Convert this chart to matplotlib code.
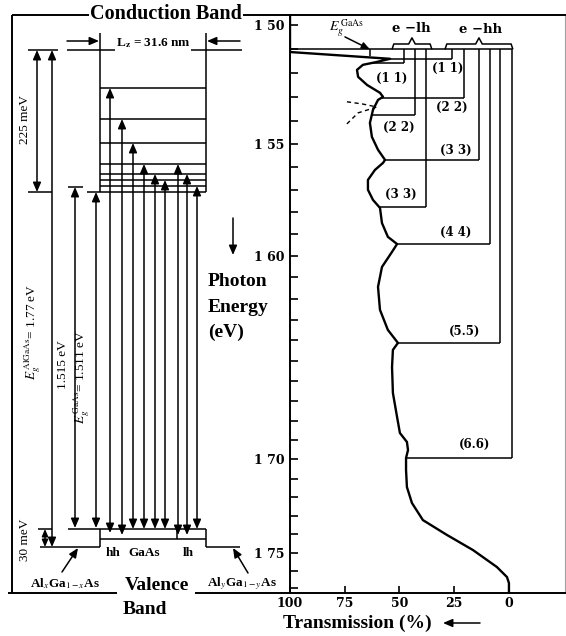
import numpy as np
import matplotlib.pyplot as plt
from matplotlib.ticker import FixedLocator, FixedFormatter

plt.rcParams['font.family'] = ['Liberation Serif', 'DejaVu Serif']
plt.rcParams['mathtext.fontset'] = 'stix'

# transmission spectrum: photon energy (eV) and transmission (%)
energy = [1.4960, 1.5105, 1.5111, 1.5139, 1.5152, 1.5164, 1.5185, 1.5214, 1.5248, 1.5281,
          1.5298, 1.5311, 1.5353, 1.5409, 1.5469, 1.5525, 1.5569, 1.5582, 1.5613, 1.5657,
          1.5701, 1.5746, 1.5782, 1.5850, 1.5913, 1.5946, 1.5982, 1.6052, 1.6145, 1.6254,
          1.6350, 1.6413, 1.6447, 1.6531, 1.6660, 1.6781, 1.6863, 1.6909, 1.6951, 1.6992,
          1.7055, 1.7145, 1.7230, 1.7322, 1.7403, 1.7486, 1.7580, 1.7636, 1.7670, 1.7726]
transmission = [100, 100, 100, 54.3, 60.3, 66.7, 69.4, 68.9, 64.8, 58.9,
                57.5, 59.8, 62.1, 63.5, 62.6, 59.8, 56.6, 57.5, 61.2, 64.4,
                64.4, 62.1, 58.9, 58.0, 55.3, 51.1, 53.4, 58.0, 59.8, 58.9,
                55.3, 50.7, 53.0, 53.4, 53.0, 51.1, 49.8, 46.6, 46.1, 47.0,
                47.0, 46.6, 44.3, 39.3, 28.3, 16.4, 5.5, 0.9, 0.0, 0.0]

eg_gaas = 1.5100
elh_names = ['(1 1)', '(2 2)', '(3 3)']
elh_energy = [1.5156, 1.5375, 1.5777]
ehh_names = ['(1 1)', '(2 2)', '(3 3)', '(4 4)', '(5.5)', '(6.6)']
ehh_energy = [1.5139, 1.5302, 1.5569, 1.5946, 1.6413, 1.6992]

energy_ticks = [1.50, 1.55, 1.60, 1.65, 1.70, 1.75]
energy_ticklabels = ['1 50', '1 55', '1 60', '', '1 70', '1 75']
trans_ticks = [100, 75, 50, 25, 0]
trans_ticklabels = ['100', '75', '50', '25', '0']

# band-edge sketch of the well (pixel units, y down)
cb_barrier = 50
cb_floor = 192
cb_levels = [88, 119, 143, 164, 174, 180, 186]
vb_top = 529
vb_split = 539
vb_barrier = 547
well_left, well_right = 100, 206
trans_x = [110, 122, 133, 144, 155, 165, 178, 187, 197]
trans_level = [0, 1, 2, 3, 4, 5, 3, 4, 6]
trans_bottom = [533, 535, 529, 529, 529, 529, 535, 535, 529]

fig = plt.figure(figsize=(5.66, 6.36), dpi=100)

# ---------------- left: schematic ----------------
ax0 = fig.add_axes([0, 0, 1, 1])
ax0.set_xlim(0, 566)
ax0.set_ylim(636, 0)
ax0.axis('off')

LW = 1.1


def seg(x, y, lw=LW, ax=ax0):
    ax.plot(x, y, color='black', lw=lw, solid_capstyle='butt')


def arrow(x0, y0, x1, y1, style='<|-|>', ax=ax0, ms=8):
    ax.annotate('', xy=(x1, y1), xytext=(x0, y0),
                arrowprops=dict(arrowstyle=style + ',head_length=0.7,head_width=0.3',
                                color='black', lw=LW, shrinkA=0, shrinkB=0,
                                mutation_scale=ms))


# frame
seg([12, 12], [15, 593], lw=1.4)
seg([12, 290], [15, 15], lw=1.4)
seg([8, 117], [593, 593], lw=1.4)
seg([195, 290], [593, 593], lw=1.4)

# conduction band well
seg([67, 242], [cb_barrier, cb_barrier])
seg([well_left, well_left], [33, cb_floor])
seg([well_right, well_right], [33, cb_floor])
seg([87, well_right], [cb_floor, cb_floor])
for y in cb_levels:
    seg([well_left, well_right], [y, y])
arrow(67, 41, well_left - 1, 41, '-|>')
arrow(240, 41, well_right + 1, 41, '-|>')
ax0.text(153, 43, r'L$_{\mathbf{z}}$ = 31.6 nm', ha='center', va='center',
         fontsize=9.5, weight='bold', bbox=dict(fc='white', ec='none', pad=0.5))

# valence band well
seg([40, well_left], [vb_barrier, vb_barrier])
seg([well_right, 240], [vb_barrier, vb_barrier])
seg([well_left, well_left], [vb_barrier, vb_top])
seg([well_right, well_right], [vb_barrier, vb_top])
seg([68, well_right], [vb_top, vb_top])
seg([well_left, well_right], [vb_split, vb_split])
seg([177, 177], [vb_top, vb_split])

# offsets and gaps
seg([28, 58], [cb_barrier, cb_barrier])
seg([28, 52], [cb_floor, cb_floor])
seg([68, 83], [187, 187])
seg([38, 52], [vb_top, vb_top])
arrow(37, cb_barrier, 37, cb_floor)
arrow(52, cb_barrier, 52, vb_barrier)
arrow(45, vb_top, 45, vb_barrier, ms=6)
arrow(75, 187, 75, vb_top - 1)
arrow(96, cb_floor, 96, vb_top - 1)

# interband transitions
for x, lev, yb in zip(trans_x, trans_level, trans_bottom):
    arrow(x, cb_levels[lev], x, yb)

ax0.text(25, 120, '225 meV', rotation=90, ha='center', va='center', fontsize=9.5)
ax0.text(33, 332, r'$E_g^{\,\mathrm{AlGaAs}}$= 1.77 eV', rotation=90,
         ha='center', va='center', fontsize=9.5)
ax0.text(63, 365, '1.515 eV', rotation=90, ha='center', va='center', fontsize=9.5)
ax0.text(82, 377, r'$E_g^{\,\mathrm{GaAs}}$= 1.511 eV', rotation=90,
         ha='center', va='center', fontsize=9.5)
ax0.text(25, 540, '30 meV', rotation=90, ha='center', va='center', fontsize=9.5)
ax0.text(113, 553, 'hh', ha='center', va='center', fontsize=9.5, weight='bold')
ax0.text(144, 553, 'GaAs', ha='center', va='center', fontsize=9.5, weight='bold')
ax0.text(188, 553, 'lh', ha='center', va='center', fontsize=9.5, weight='bold')
arrow(62, 572, 78, 548, '-|>')
arrow(248, 573, 233, 548, '-|>')
ax0.text(65, 584, r'Al$_x$Ga$_{1-x}$As', ha='center', va='center', fontsize=9.5, weight='bold')
ax0.text(242, 584, r'Al$_y$Ga$_{1-y}$As', ha='center', va='center', fontsize=9.5, weight='bold')

ax0.text(166, 14, 'Conduction Band', ha='center', va='center', fontsize=14.5,
         weight='bold', bbox=dict(fc='white', ec='none', pad=1))
ax0.text(157, 586, 'Valence', ha='center', va='center', fontsize=14, weight='bold')
ax0.text(145, 609, 'Band', ha='center', va='center', fontsize=14, weight='bold')
for i, word in enumerate(['Photon', 'Energy', '(eV)']):
    ax0.text(208, 282 + 25 * i, word, ha='left', va='center', fontsize=14, weight='bold')
arrow(233, 218, 233, 255, '-|>')
ax0.text(357, 623, 'Transmission (%)', ha='center', va='center', fontsize=14, weight='bold')
arrow(480, 623, 443, 623, '-|>')

# ---------------- right: spectrum ----------------
ax1 = fig.add_axes([290 / 566, 43 / 636, 275 / 566, 578 / 636])
ax1.set_yscale('function', functions=(lambda e: -1.0 / np.asarray(e),
                                      lambda v: -1.0 / np.asarray(v)))
ax1.set_ylim(1.7726, 1.4960)
ax1.set_xlim(100, -25.6)
ax1.patch.set_alpha(0)

ax1.plot(transmission, energy, color='black', lw=1.7)

# transition markers
seg([100, -1.4], [eg_gaas, eg_gaas], ax=ax1)
elh_x = [47.9, 42.9, 37.9]
ehh_x = [26.0, 20.5, 13.7, 8.7, 4.1, -1.4]
elh_lab = [(53.4, -11), (50.2, -9), (49.3, 9)]
ehh_lab = [(27.9, -7), (26.0, -7), (24.2, 7), (24.2, 8), (20.5, 8), (15.5, 10)]
for names, levels, xs, labs in [(elh_names, elh_energy, elh_x, elh_lab),
                                (ehh_names, ehh_energy, ehh_x, ehh_lab)]:
    for name, e, xv, (xl, dy) in zip(names, levels, xs, labs):
        t_curve = np.interp(e, energy, transmission)
        seg([xv, xv], [eg_gaas, e], ax=ax1)
        seg([t_curve, xv], [e, e], ax=ax1)
        ax1.annotate(name, xy=(xl, e), xytext=(0, dy), textcoords='offset points',
                     ha='center', va='center', fontsize=8.5, weight='bold',
                     family='DejaVu Serif')


def brace(t0, t1, tip):
    seg([t0, t0 - 0.8, tip + 1.5, tip, tip - 1.5, t1 + 0.8, t1],
        [eg_gaas, 1.5078, 1.5078, 1.5053, 1.5078, 1.5078, eg_gaas], ax=ax1)


brace(53.4, 35.2, 44.3)
brace(29.2, -1.8, 13.7)
ax1.text(44.7, 1.5016, 'e \u2212lh', ha='center', va='center', fontsize=9.5,
         weight='bold', family='DejaVu Serif')
ax1.text(12.8, 1.5020, 'e \u2212hh', ha='center', va='center', fontsize=9.5,
         weight='bold', family='DejaVu Serif')

# gap marker and dashed exciton tails
ax1.text(74.4, 1.5016, r'$E_g^{\,\mathrm{GaAs}}$', ha='center', va='center', fontsize=10)
ax1.annotate('', xy=(63.5, eg_gaas), xytext=(74.9, 1.5049),
             arrowprops=dict(arrowstyle='-|>,head_length=0.6,head_width=0.25',
                             color='black', lw=LW, shrinkA=0, shrinkB=0, mutation_scale=8))
seg([63.5, 63.5], [eg_gaas, 1.5127], ax=ax1)
ax1.plot([74.0, 67.0, 60.3], [1.5319, 1.5328, 1.5341], color='black', lw=1.0, ls=(0, (3, 2.5)))
ax1.plot([74.0, 68.9, 60.3], [1.5413, 1.5366, 1.5341], color='black', lw=1.0, ls=(0, (3, 2.5)))

# axes styling
for side in ['left', 'bottom', 'top']:
    ax1.spines[side].set_linewidth(1.4)
ax1.spines['right'].set_color('#a0a0a0')
ax1.spines['right'].set_linewidth(0.8)

ax1.yaxis.set_major_locator(FixedLocator(energy_ticks))
ax1.yaxis.set_major_formatter(FixedFormatter(energy_ticklabels))
ax1.yaxis.set_minor_locator(FixedLocator(np.round(np.arange(1.50, 1.775, 0.01), 2)))
ax1.xaxis.set_major_locator(FixedLocator(trans_ticks))
ax1.xaxis.set_major_formatter(FixedFormatter(trans_ticklabels))
ax1.tick_params(axis='y', which='both', direction='in', length=6, width=1.2,
                right=False, pad=4)
ax1.tick_params(axis='x', which='both', direction='in', length=5, width=1.2,
                top=False, pad=3)
for lab in ax1.get_yticklabels() + ax1.get_xticklabels():
    lab.set_fontfamily('DejaVu Serif')
    lab.set_fontweight('bold')
    lab.set_fontsize(9)

fig.savefig('out.png', dpi=100)
